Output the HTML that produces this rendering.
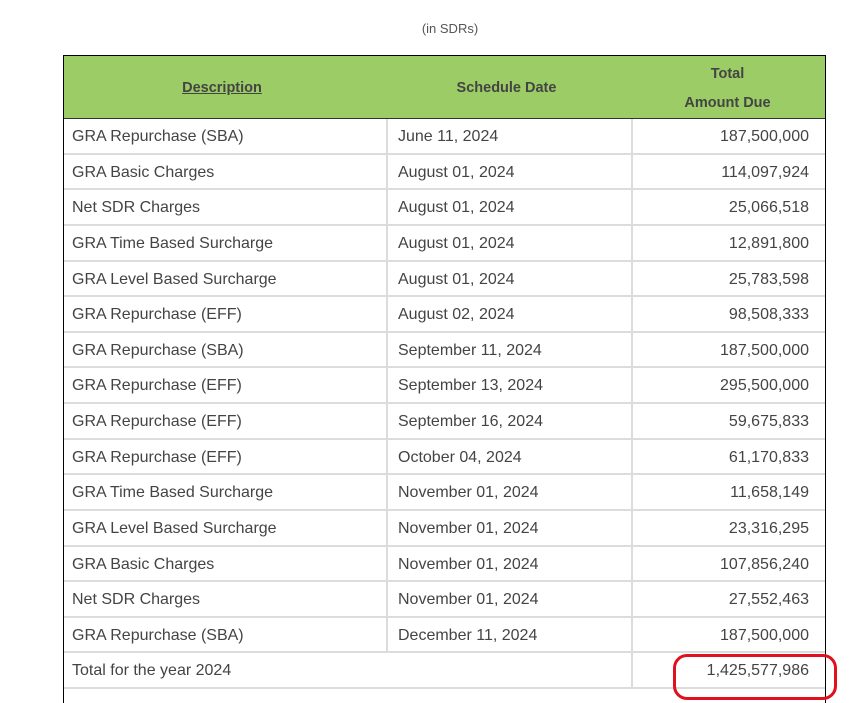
<!DOCTYPE html>
<html style="overflow:hidden"><head><style>
html,body{margin:0;width:861px;height:703px;overflow:hidden}
body{background:#fff;font-family:"Liberation Sans",Arial,sans-serif;position:relative}
.cap{position:absolute;top:21px;left:0;width:900px;text-align:center;font-size:13px;color:#555}
.tbl{position:absolute;left:63px;top:55px;width:761px;height:648px;border:1px solid #000;border-bottom:none;overflow:hidden}
.hd{height:62px;background:#9ccc65;border-bottom:1px solid #333;position:relative;font-weight:bold;font-size:14.5px;color:#444}
.hd div{position:absolute;text-align:center}
.row{height:33.625px;border-bottom:2px solid #dcdcdc;display:flex;font-size:16px;color:#444;line-height:36px}
.a{width:324px;padding-left:8px;box-sizing:border-box;border-right:2px solid #dcdcdc}
.b{width:245px;padding-left:10px;box-sizing:border-box;border-right:2px solid #dcdcdc}
.c{width:192px;text-align:right;padding-right:16px;box-sizing:border-box}
.oval{position:absolute;left:673px;top:654px;width:158px;height:40px;border:3px solid #e0101e;border-radius:14px}
</style></head><body>
<div class="cap">(in SDRs)</div>
<div class="tbl">
<div class="hd">
<div style="left:0;width:316px;top:24px;text-decoration:underline">Description</div>
<div style="left:320px;width:245px;top:24px">Schedule Date</div>
<div style="left:571px;width:185px;top:4px;line-height:29px">Total<br>Amount Due</div>
</div>
<div class="row"><div class="a">GRA Repurchase (SBA)</div><div class="b">June 11, 2024</div><div class="c">187,500,000</div></div>
<div class="row"><div class="a">GRA Basic Charges</div><div class="b">August 01, 2024</div><div class="c">114,097,924</div></div>
<div class="row"><div class="a">Net SDR Charges</div><div class="b">August 01, 2024</div><div class="c">25,066,518</div></div>
<div class="row"><div class="a">GRA Time Based Surcharge</div><div class="b">August 01, 2024</div><div class="c">12,891,800</div></div>
<div class="row"><div class="a">GRA Level Based Surcharge</div><div class="b">August 01, 2024</div><div class="c">25,783,598</div></div>
<div class="row"><div class="a">GRA Repurchase (EFF)</div><div class="b">August 02, 2024</div><div class="c">98,508,333</div></div>
<div class="row"><div class="a">GRA Repurchase (SBA)</div><div class="b">September 11, 2024</div><div class="c">187,500,000</div></div>
<div class="row"><div class="a">GRA Repurchase (EFF)</div><div class="b">September 13, 2024</div><div class="c">295,500,000</div></div>
<div class="row"><div class="a">GRA Repurchase (EFF)</div><div class="b">September 16, 2024</div><div class="c">59,675,833</div></div>
<div class="row"><div class="a">GRA Repurchase (EFF)</div><div class="b">October 04, 2024</div><div class="c">61,170,833</div></div>
<div class="row"><div class="a">GRA Time Based Surcharge</div><div class="b">November 01, 2024</div><div class="c">11,658,149</div></div>
<div class="row"><div class="a">GRA Level Based Surcharge</div><div class="b">November 01, 2024</div><div class="c">23,316,295</div></div>
<div class="row"><div class="a">GRA Basic Charges</div><div class="b">November 01, 2024</div><div class="c">107,856,240</div></div>
<div class="row"><div class="a">Net SDR Charges</div><div class="b">November 01, 2024</div><div class="c">27,552,463</div></div>
<div class="row"><div class="a">GRA Repurchase (SBA)</div><div class="b">December 11, 2024</div><div class="c">187,500,000</div></div>
<div class="row"><div class="a" style="width:569px">Total for the year 2024</div><div class="c">1,425,577,986</div></div>
</div>
<div class="oval"></div>
</body></html>
